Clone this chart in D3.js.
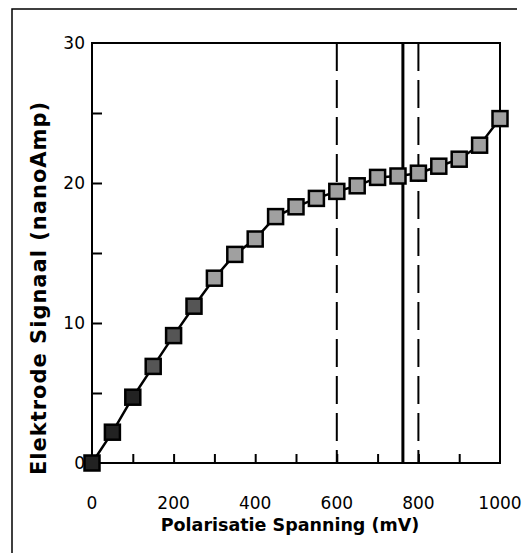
<!DOCTYPE html>
<html>
<head>
<meta charset="utf-8">
<script src="https://cdn.jsdelivr.net/npm/d3@7"></script>
<style>
  body { margin: 0; background: #fff; }
  text { font-family: "DejaVu Sans", "Liberation Sans", sans-serif; fill: #000; }
</style>
</head>
<body>
<div id="chart"></div>
<script>
const voltage = [0, 50, 100, 150, 200, 250, 300, 350, 400, 450, 500,
                 550, 600, 650, 700, 750, 800, 850, 900, 950, 1000];
const signal = [0, 2.2, 4.7, 6.9, 9.1, 11.2, 13.2, 14.9, 16.0, 17.6, 18.3,
                18.9, 19.4, 19.8, 20.4, 20.5, 20.7, 21.2, 21.7, 22.7, 24.6];
const xTicks = [0, 200, 400, 600, 800, 1000];
const yTicks = [0, 10, 20, 30];
const dashedAt = [600, 800];
const solidAt = [762];

const svgWidth = 531;
const svgHeight = 553;
const margin = { top: 43, left: 92, bottom: 90, right: 31 };

const svg = d3
    .select('#chart')
    .append('svg')
    .attr('width', svgWidth)
    .attr('height', svgHeight);

const x = d3.scaleLinear().domain([0, 1000]).range([margin.left, svgWidth - margin.right]);
const y = d3.scaleLinear().domain([0, 30]).range([svgHeight - margin.bottom, margin.top]);

// outer frame (left + top only)
svg.append('path')
    .attr('d', `M12,${svgHeight} L12,9 L517,9`)
    .attr('fill', 'none')
    .attr('stroke', '#000')
    .attr('stroke-width', 1.5);

// plot box
svg.append('rect')
    .attr('x', x(0))
    .attr('y', y(30))
    .attr('width', x(1000) - x(0))
    .attr('height', y(0) - y(30))
    .attr('fill', 'none')
    .attr('stroke', '#000')
    .attr('stroke-width', 2);

// inward ticks
const xAxis = svg.append('g')
    .attr('transform', `translate(0, ${y(0)})`)
    .call(d3.axisBottom(x).tickValues(d3.range(100, 1000, 100)).tickSize(-9).tickFormat(''));
const yAxis = svg.append('g')
    .attr('transform', `translate(${x(0)}, 0)`)
    .call(d3.axisLeft(y).tickValues([5, 10, 15, 20, 25]).tickSize(-10).tickFormat(''));
[xAxis, yAxis].forEach(g => {
    g.select('.domain').remove();
    g.selectAll('line').attr('stroke', '#000').attr('stroke-width', 2);
});

// tick labels
svg.selectAll('.xlab')
    .data(xTicks)
    .enter()
    .append('text')
    .attr('class', 'xlab')
    .attr('x', d => x(d))
    .attr('y', y(0) + 46)
    .attr('text-anchor', 'middle')
    .attr('font-size', 17)
    .text(d => d);

svg.selectAll('.ylab')
    .data(yTicks)
    .enter()
    .append('text')
    .attr('class', 'ylab')
    .attr('x', x(0) - 7)
    .attr('y', d => y(d) + 6)
    .attr('text-anchor', 'end')
    .attr('font-size', 17)
    .text(d => d);

// axis titles
svg.append('text')
    .attr('x', 290)
    .attr('y', 531)
    .attr('text-anchor', 'middle')
    .attr('font-size', 17.5)
    .attr('font-weight', 'bold')
    .text('Polarisatie Spanning (mV)');

svg.append('text')
    .attr('transform', 'translate(46, 288) rotate(-90)')
    .attr('text-anchor', 'middle')
    .attr('font-size', 21)
    .attr('letter-spacing', 1)
    .attr('font-weight', 'bold')
    .text('Elektrode Signaal (nanoAmp)');

// reference lines
svg.selectAll('.dashed')
    .data(dashedAt)
    .enter()
    .append('line')
    .attr('x1', d => x(d))
    .attr('x2', d => x(d))
    .attr('y1', y(30))
    .attr('y2', y(0))
    .attr('stroke', '#000')
    .attr('stroke-width', 2)
    .attr('stroke-dasharray', '28,9');

svg.selectAll('.solid')
    .data(solidAt)
    .enter()
    .append('line')
    .attr('x1', d => x(d))
    .attr('x2', d => x(d))
    .attr('y1', y(30))
    .attr('y2', y(0))
    .attr('stroke', '#000')
    .attr('stroke-width', 3);

// data line
const data = voltage.map((v, i) => ({ v, s: signal[i] }));
svg.append('path')
    .datum(data)
    .attr('fill', 'none')
    .attr('stroke', '#000')
    .attr('stroke-width', 2.5)
    .attr('d', d3.line().x(d => x(d.v)).y(d => y(d.s)));

// markers
const size = 15;
svg.selectAll('.marker')
    .data(data)
    .enter()
    .append('rect')
    .attr('class', 'marker')
    .attr('x', d => x(d.v) - size / 2)
    .attr('y', d => y(d.s) - size / 2)
    .attr('width', size)
    .attr('height', size)
    .attr('fill', d => d.v <= 100 ? '#222' : d.v <= 250 ? '#555' : '#a0a0a0')
    .attr('stroke', '#000')
    .attr('stroke-width', 2.5);
</script>
</body>
</html>
